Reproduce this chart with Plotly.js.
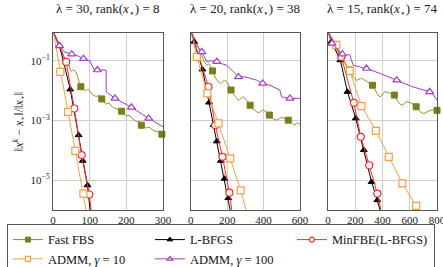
<!DOCTYPE html>
<html><head><meta charset="utf-8">
<script src="https://cdn.plot.ly/plotly-3.0.1.min.js"></script>
<style>html,body{margin:0;padding:0;background:#fff}#c{width:443px;height:267px}</style>
</head><body><div id="c"></div>
<script>
// ---- labels ----
const panelTitles = ['λ = 30, rank(<i>x</i><sub>⋆</sub>) = 8', 'λ = 20, rank(<i>x</i><sub>⋆</sub>) = 38', 'λ = 15, rank(<i>x</i><sub>⋆</sub>) = 74'];
const xTickVals = [[0,100,200,300],[0,200,400,600],[0,200,400,600,800]];
const xRanges = [[0,300],[0,600],[0,800]];
const yTickVals = [1e-1,1e-3,1e-5];
const yTickText = ['10<sup>−1</sup>','10<sup>−3</sup>','10<sup>−5</sup>'];
const seriesNames = ['Fast FBS','L-BFGS','MinFBE(L-BFGS)','ADMM, <i>γ</i> = 10','ADMM, <i>γ</i> = 100'];

// ---- data: iterations (x) and log10 relative error (y); *_mk = indices carrying a marker ----
// panel 1
const fbs1_x = [0,10,20,30,40,50,57,65,76,88,96,105,118,125,133,145,153,162,175,180,187,200,208,218,230,235,241,255,262,272,285,290,297,300];
const fbs1_y = [0,-0.35,-0.65,-0.88,-1.05,-1.35,-1.30,-1.45,-1.87,-2.0,-1.95,-2.1,-2.2,-2.15,-2.28,-2.45,-2.42,-2.55,-2.62,-2.6,-2.69,-2.85,-2.83,-2.95,-3.05,-3.03,-3.16,-3.25,-3.22,-3.32,-3.38,-3.36,-3.46,-3.47];
const fbs1_mk = [8,14,20,26,32];
const lb1_x = [0,18,47,70,81,94,101];
const lb1_y = [0,-0.5,-1.96,-3.49,-4.35,-5.17,-6.0];
const lb1_mk = [0,1,2,3,4,5];
const mf1_x = [0,36,58,78,99,104];
const mf1_y = [0,-1.04,-2.6,-4.16,-5.48,-6.0];
const mf1_mk = [0,1,2,3,4];
const a10_1_x = [0,20,41,61,83,90];
const a10_1_y = [0,-1.37,-2.71,-4.02,-5.45,-6.0];
const a10_1_mk = [0,1,2,3,4];
const a100_1_x = [0,18,30,51,70,83,100,112,121,145,145,169,214,261,300];
const a100_1_y = [0,-0.5,-0.7,-0.78,-0.85,-0.93,-1.0,-1.3,-1.31,-1.31,-2.04,-2.26,-2.56,-2.93,-3.21];
const a100_1_mk = [0,1,3,5,8,11,12,13];
// panel 2
const fbs2_x = [0,18,33,50,70,88,100,119,140,161,175,188,221,245,262,276,289,326,350,371,385,399,432,455,472,486,499,536,560,572,582,600];
const fbs2_y = [0,-0.22,-0.42,-0.68,-0.98,-1.15,-1.1,-1.34,-1.62,-1.76,-1.7,-1.65,-1.98,-2.2,-2.32,-2.26,-2.21,-2.49,-2.65,-2.74,-2.7,-2.65,-2.82,-2.95,-2.99,-2.94,-2.9,-2.99,-3.1,-3.16,-3.08,-3.13];
const fbs2_mk = [7,12,17,22,27];
const lb2_x = [0,18,64,100,125,143,165,185,206,216];
const lb2_y = [0,-0.36,-1.29,-2.4,-3.15,-3.7,-4.35,-4.95,-5.6,-6.0];
const lb2_mk = [0,1,2,3,4,5,6,7,8];
const mf2_x = [0,97,134,174,212,225];
const mf2_y = [0,-1.87,-3.16,-4.22,-5.42,-6.0];
const mf2_mk = [0,1,2,3,4];
const a10_2_x = [0,33,91,152,216,274,304];
const a10_2_y = [0,-0.87,-2.09,-3.1,-4.27,-5.34,-6.0];
const a10_2_mk = [0,1,2,3,4,5];
const a100_2_x = [0,24,60,88,110,143,170,198,234,262,298,326,362,395,435,490,499,545,600];
const a100_2_y = [0,-0.42,-0.7,-1.03,-1.0,-1.03,-1.1,-1.15,-1.37,-1.54,-1.54,-1.59,-1.65,-1.76,-1.82,-1.98,-2.21,-2.26,-2.26];
const a100_2_mk = [0,2,5,9,13,17];
// panel 3
const fbs3_x = [0,30,62,90,111,135,160,185,209,246,280,327,355,382,418,450,487,515,542,578,610,647,675,702,751,800];
const fbs3_y = [0,-0.32,-0.64,-0.85,-0.98,-1.18,-1.31,-1.55,-1.65,-1.59,-1.68,-1.82,-2.05,-2.21,-2.04,-2.08,-2.15,-2.38,-2.49,-2.37,-2.42,-2.54,-2.7,-2.77,-2.66,-2.66];
const fbs3_mk = [6,11,16,21,25];
const lb3_x = [0,25,91,143,204,263,320,362,382];
const lb3_y = [0,-0.36,-0.98,-2.04,-2.93,-3.99,-5.06,-5.67,-6.0];
const lb3_mk = [0,1,2,3,4,5,6,7];
const mf3_x = [0,98,190,241,303,362,389];
const mf3_y = [0,-0.87,-2.41,-3.55,-4.5,-5.45,-6.0];
const mf3_mk = [0,1,2,3,4,5];
const a10_3_x = [0,62,160,246,352,446,546,647,657];
const a10_3_y = [0,-0.47,-1.34,-2.52,-3.35,-4.22,-5.11,-5.86,-6.0];
const a10_3_mk = [0,1,2,3,4,5,6,7];
const a100_3_x = [0,30,75,106,135,160,185,283,380,505,620,746,775,800];
const a100_3_y = [0,-0.42,-0.64,-0.78,-0.8,-0.8,-1.15,-1.26,-1.42,-1.65,-1.87,-2.04,-2.15,-2.32];
const a100_3_mk = [0,1,3,7,9,11];

// ---- styles ----
const styles = [
  {line:'#8c8c24', shape:'spline', marker:{symbol:'square', size:6, color:'#7d7d1c', line:{color:'#7d7d1c', width:1}}},
  {line:'#000000', shape:'linear', marker:{symbol:'triangle-up', size:6, color:'#000000', line:{color:'#000000', width:1}}},
  {line:'#ff2a2a', shape:'linear', marker:{symbol:'circle', size:7, color:'#ffffff', line:{color:'#ff2a2a', width:1.2}}},
  {line:'#f5a043', shape:'linear', marker:{symbol:'square', size:7, color:'#ffffff', line:{color:'#f5a043', width:1.2}}},
  {line:'#a23cc4', shape:'linear', marker:{symbol:'triangle-up', size:7, color:'#ffffff', line:{color:'#a23cc4', width:1.2}}}
];

const panels = [
  [[fbs1_x,fbs1_y,fbs1_mk],[lb1_x,lb1_y,lb1_mk],[mf1_x,mf1_y,mf1_mk],[a10_1_x,a10_1_y,a10_1_mk],[a100_1_x,a100_1_y,a100_1_mk]],
  [[fbs2_x,fbs2_y,fbs2_mk],[lb2_x,lb2_y,lb2_mk],[mf2_x,mf2_y,mf2_mk],[a10_2_x,a10_2_y,a10_2_mk],[a100_2_x,a100_2_y,a100_2_mk]],
  [[fbs3_x,fbs3_y,fbs3_mk],[lb3_x,lb3_y,lb3_mk],[mf3_x,mf3_y,mf3_mk],[a10_3_x,a10_3_y,a10_3_mk],[a100_3_x,a100_3_y,a100_3_mk]]
];

const toVal = v => Math.pow(10, v);
const traces = [];
panels.forEach((series, p) => {
  const xa = p === 0 ? 'x' : 'x' + (p + 1);
  const ya = p === 0 ? 'y' : 'y' + (p + 1);
  series.forEach((s, k) => {
    const [xs, ys, mk] = s;
    traces.push({x: xs, y: ys.map(toVal), xaxis: xa, yaxis: ya, mode: 'lines', showlegend: false,
      hoverinfo: 'skip', line: {color: styles[k].line, width: 1, shape: styles[k].shape, smoothing: 0.6}});
    traces.push({x: mk.map(i => xs[i]), y: mk.map(i => toVal(ys[i])), xaxis: xa, yaxis: ya, mode: 'markers',
      showlegend: false, hoverinfo: 'skip', cliponaxis: false, marker: styles[k].marker});
  });
});
seriesNames.forEach((name, k) => {
  traces.push({x: [null], y: [null], name: name, mode: 'lines+markers', showlegend: true,
    line: {color: styles[k].line, width: 1}, marker: Object.assign({}, styles[k].marker, {size: 5})});
});

const axisCommon = {showline: true, mirror: true, linecolor: '#555', linewidth: 1, showgrid: true,
  gridcolor: '#cfcfcf', gridwidth: 1, zeroline: false, ticks: '', tickfont: {size: 11, color: '#222'},
  ticklabeloverflow: 'allow'};
const domains = [[0, 0.2865], [0.359, 0.643], [0.716, 1]];

const layout = {
  width: 443, height: 267, margin: {l: 53, r: 6, t: 33, b: 57, autoexpand: false},
  paper_bgcolor: '#fff', plot_bgcolor: '#fff',
  font: {family: '"Liberation Serif", "DejaVu Serif", serif', size: 11, color: '#222'},
  showlegend: true,
  legend: {orientation: 'h', x: -0.12, xanchor: 'left', y: -0.079, yanchor: 'top',
    bordercolor: '#555', borderwidth: 1, font: {size: 12.5, color: '#111'},
    entrywidth: 97, entrywidthmode: 'pixels', itemwidth: 30, tracegroupgap: 0},
  annotations: panelTitles.map((t, p) => ({text: t, xref: 'paper', yref: 'paper',
    x: (domains[p][0] + domains[p][1]) / 2, y: 1.13, xanchor: 'center', yanchor: 'middle',
    showarrow: false, font: {size: 13, color: '#222'}}))
};
for (let p = 0; p < 3; p++) {
  const xk = p === 0 ? 'xaxis' : 'xaxis' + (p + 1);
  const yk = p === 0 ? 'yaxis' : 'yaxis' + (p + 1);
  layout[xk] = Object.assign({}, axisCommon, {domain: domains[p], range: xRanges[p], tickvals: xTickVals[p],
    anchor: p === 0 ? 'y' : 'y' + (p + 1)});
  layout[yk] = Object.assign({}, axisCommon, {type: 'log', range: [-6, -0.07], tickvals: yTickVals,
    ticktext: yTickText, anchor: p === 0 ? 'x' : 'x' + (p + 1), showticklabels: p === 0});
}
layout.yaxis.title = {text: '‖<i>x</i><sup><i>k</i></sup> − <i>x</i><sub>⋆</sub>‖/‖<i>x</i><sub>⋆</sub>‖',
  font: {size: 12, color: '#222'}, standoff: 4};

Plotly.newPlot('c', traces, layout, {displayModeBar: false, staticPlot: true});
</script>
</body></html>
